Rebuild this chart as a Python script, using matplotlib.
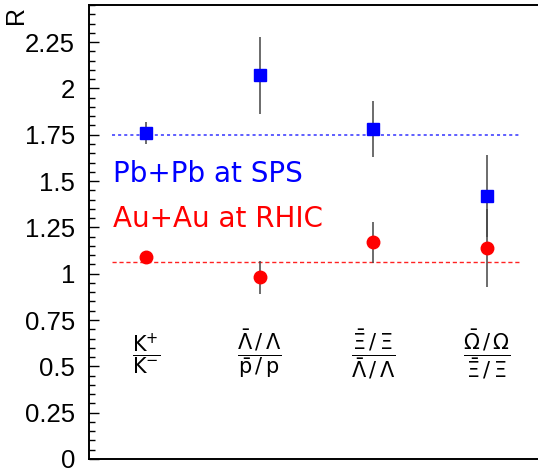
import matplotlib
matplotlib.use("Agg")
import matplotlib.pyplot as plt
from matplotlib.ticker import MultipleLocator

# ratio labels (x positions are the bin centres 0.5, 1.5, ...)
ratio_labels = [r'$\dfrac{\mathrm{K}^{+}}{\mathrm{K}^{-}}$',
                r'$\dfrac{\bar{\Lambda}\,/\,\Lambda}{\bar{\mathrm{p}}\,/\,\mathrm{p}}$',
                r'$\dfrac{\bar{\Xi}\,/\,\Xi}{\bar{\Lambda}\,/\,\Lambda}$',
                r'$\dfrac{\bar{\Omega}\,/\,\Omega}{\bar{\Xi}\,/\,\Xi}$']
x_pos = [0.5, 1.5, 2.5, 3.5]

# Pb+Pb at SPS
sps_val = [1.76, 2.07, 1.78, 1.42]
sps_err = [0.06, 0.21, 0.15, 0.22]
sps_mean = 1.75

# Au+Au at RHIC
rhic_val = [1.09, 0.98, 1.17, 1.14]
rhic_err = [0.02, 0.09, 0.11, 0.21]
rhic_mean = 1.065

plt.rcParams['mathtext.fontset'] = 'dejavusans'

fig = plt.figure(figsize=(5.38, 4.70), dpi=100)
# axes runs a little past the right edge of the picture, like the original
ax = fig.add_axes([89/538, 11/470, (544-89)/538, 454/470])
ax.set_xlim(0, 4)
ax.set_ylim(0, 2.45)

ax.hlines(sps_mean, 0.2, 3.78, colors='#3333ff', linestyles=(0, (2, 2)), lw=1.1)
ax.hlines(rhic_mean, 0.2, 3.78, colors='#ff2222', linestyles=(0, (3, 2)), lw=1.0)

ax.errorbar(x_pos, sps_val, yerr=sps_err, fmt='s', color='#0000ff', ms=9,
            ecolor='#444444', elinewidth=1.1, capsize=0, zorder=3)
ax.errorbar(x_pos, rhic_val, yerr=rhic_err, fmt='o', color='#ff0000', ms=9,
            ecolor='#444444', elinewidth=1.1, capsize=0, zorder=3)

for xp, lab in zip(x_pos, ratio_labels):
    ax.text(xp, 0.567, lab, ha='center', va='center', fontsize=15)

ax.text(0.21, 1.495, 'Pb+Pb at SPS', color='#0000ff', fontsize=20, va='baseline')
ax.text(0.21, 1.252, 'Au+Au at RHIC', color='#ff0000', fontsize=20, va='baseline')

ax.yaxis.set_major_locator(MultipleLocator(0.25))
ax.yaxis.set_minor_locator(MultipleLocator(0.05))
ax.set_yticks([0, 0.25, 0.5, 0.75, 1, 1.25, 1.5, 1.75, 2, 2.25])
ax.set_yticklabels(['0', '0.25', '0.5', '0.75', '1', '1.25', '1.5', '1.75', '2', '2.25'],
                   fontfamily='Liberation Sans', fontsize=18.5)
ax.tick_params(axis='y', which='major', direction='in', length=7, width=1, pad=10)
ax.tick_params(axis='y', which='minor', direction='in', length=4, width=1)
ax.set_xticks([])
for s in ax.spines.values():
    s.set_linewidth(1.4)

fig.text(16/538, 1 - 15/470, 'R', rotation=90, ha='center', va='center',
         fontsize=18, fontfamily='Liberation Sans')

fig.savefig('out.png', dpi=100)
